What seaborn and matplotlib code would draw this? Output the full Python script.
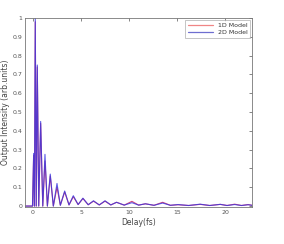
import numpy as np
import pandas as pd
import matplotlib
matplotlib.use("Agg")
import matplotlib.pyplot as plt
import seaborn as sns
from matplotlib.lines import Line2D

# Delay (fs) and intensity read at peaks/troughs of each curve
delay_2d = [-0.8, -0.05, 0.07, 0.15, 0.24, 0.34, 0.45, 0.6, 0.8, 1.02, 1.25, 1.5, 1.8, 2.12,
            2.5, 2.85, 3.3, 3.75, 4.2, 4.7, 5.2, 5.75, 6.3, 6.9, 7.5, 8.1, 8.7, 9.5, 10.3,
            11.0, 11.7, 12.6, 13.5, 14.3, 15.1, 16.2, 17.4, 18.4, 19.5, 20.2, 21.0, 21.7, 22.4, 22.8]
inten_2d = [0.0, 0.0, 0.28, 0.0, 1.0, 0.0, 0.75, 0.0, 0.45, 0.0, 0.275, 0.0, 0.17, 0.0,
            0.12, 0.004, 0.08, 0.006, 0.055, 0.008, 0.042, 0.007, 0.028, 0.006, 0.028, 0.006, 0.02, 0.005, 0.018,
            0.005, 0.012, 0.004, 0.016, 0.004, 0.008, 0.003, 0.01, 0.003, 0.009, 0.003, 0.008, 0.003, 0.007, 0.004]

delay_1d = [-0.8, -0.05, 0.07, 0.15, 0.24, 0.34, 0.45, 0.6, 0.8, 1.02, 1.25, 1.5, 1.8, 2.12,
            2.5, 2.85, 3.3, 3.75, 4.2, 4.7, 5.2, 5.75, 6.3, 6.9, 7.5, 8.1, 8.7, 9.5, 10.3,
            11.0, 11.7, 12.6, 13.5, 14.3, 15.1, 16.2, 17.4, 18.4, 19.5, 20.2, 21.0, 21.7, 22.4, 22.8]
inten_1d = [0.0, 0.0, 0.27, 0.0, 0.98, 0.0, 0.74, 0.0, 0.44, 0.0, 0.24, 0.0, 0.16, 0.0,
            0.10, 0.005, 0.075, 0.006, 0.05, 0.008, 0.04, 0.007, 0.026, 0.006, 0.026, 0.006, 0.02, 0.005, 0.025,
            0.005, 0.012, 0.004, 0.02, 0.004, 0.007, 0.003, 0.009, 0.003, 0.009, 0.003, 0.01, 0.003, 0.008, 0.004]

series_names = ["1D Model", "2D Model"]

df = pd.concat([
    pd.DataFrame({"Delay": delay_1d, "Intensity": inten_1d, "Model": series_names[0]}),
    pd.DataFrame({"Delay": delay_2d, "Intensity": inten_2d, "Model": series_names[1]}),
])

sns.set_style("white")
fig = plt.figure(figsize=(2.84, 2.44), dpi=100)
ax = fig.add_axes([25/284, 1-207/244, (252-25)/284, (207-18)/244])

palette = {"1D Model": "#d0306a", "2D Model": "#3535e0"}
sns.lineplot(data=df, x="Delay", y="Intensity", hue="Model", palette=palette,
             linewidth=0.8, ax=ax, sort=False, estimator=None, legend=False)
lines = ax.get_lines()
lines[0].set_alpha(0.9)
lines[1].set_alpha(0.8)

ax.set_xlim(-0.83, 22.8)
ax.set_ylim(-0.005, 1.0)
ax.set_xticks([0, 5, 10, 15, 20])
ax.set_yticks(np.round(np.arange(0, 1.01, 0.1), 1))
ax.set_yticklabels(["0", "0.1", "0.2", "0.3", "0.4", "0.5", "0.6", "0.7", "0.8", "0.9", "1"])
ax.tick_params(direction="in", length=2, width=0.5, labelsize=4.5, colors="#555555",
               top=True, right=True, pad=2)
for s in ax.spines.values():
    s.set_color("#777777")
    s.set_linewidth(0.6)
ax.set_xlabel("Delay(fs)", fontsize=5.5, color="#444444", labelpad=2)
ax.set_ylabel("Output Intensity (arb.units)", fontsize=5.5, color="#444444", labelpad=2)

handles = [Line2D([], [], color="#f08585", lw=0.9), Line2D([], [], color="#6e6ed0", lw=0.9)]
leg = ax.legend(handles, series_names, loc="upper right", fontsize=4.5, frameon=True,
                fancybox=False, borderaxespad=0.3, handlelength=4, borderpad=0.4,
                labelspacing=0.3)
leg.get_frame().set_edgecolor("#999999")
leg.get_frame().set_linewidth(0.5)
for t in leg.get_texts():
    t.set_color("#333333")

fig.savefig("out.png", dpi=100)
